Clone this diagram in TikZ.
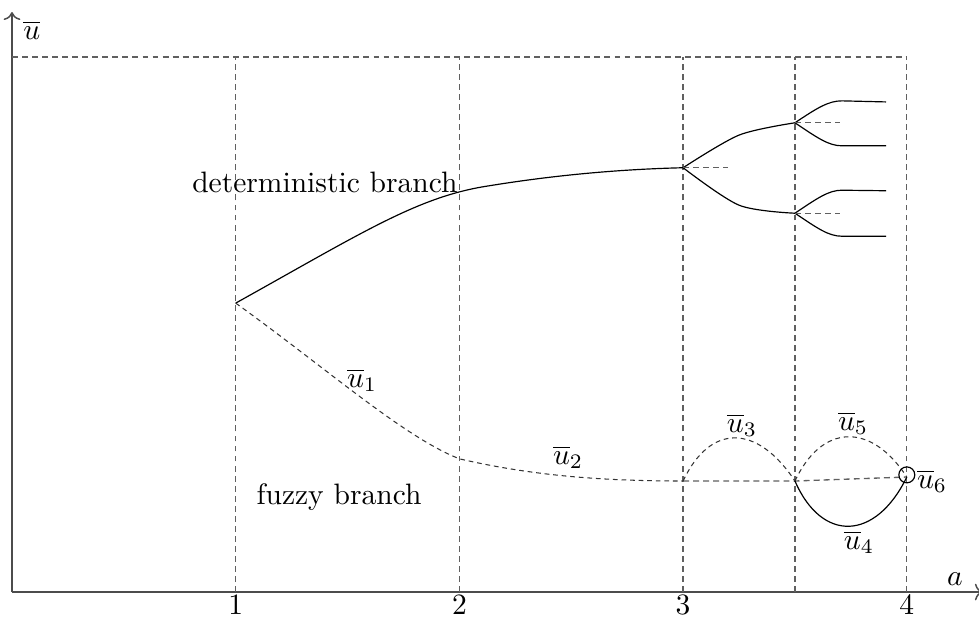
\documentclass[tikz,border=0pt]{standalone}
\usepackage{amsmath,amssymb}
\usepackage{tikz}
\usetikzlibrary{positioning,arrows.meta,calc}

\begin{document}
\begin{tikzpicture}[x=2.662cm,y=6.367cm,
  guide/.style={gray!75!black,dash pattern=on 2pt off 1.4pt,line width=0.45pt},
  fuzzy/.style={black!80,dash pattern=on 1.6pt off 1.3pt,line width=0.35pt},
  branch/.style={line width=0.4pt}]
\useasboundingbox (-0.0536,-0.0449) rectangle (4.3227,1.1065);
% ---- axes and guide lines ----
\draw[->,gray!60!black,line width=0.5pt] (0,0) -- (4.34,0);
\draw[->,gray!60!black,line width=0.5pt] (0,0) -- (0,1.084);
\node (ylab) at (0.089,1.050) {$\overline{u}$};
\node (xlab) at (4.215,0.025) {$a$};
\foreach \k in {1,2,3,4} \node[below,inner sep=1pt] (t\k) at (\k,0) {$\k$};
\foreach \k in {1,2,3,3.5,4} \draw[guide] (\k,0) -- (\k,1);
\draw[guide] (0,1) -- (4,1);
% ---- branch points ----
\coordinate (b1) at (1,0.540);
\coordinate (d3) at (3,0.793);
\coordinate (dU) at (3.5,0.877);
\coordinate (dL) at (3.5,0.708);
\coordinate (f2) at (2,0.249);
\coordinate (f3) at (3,0.2075);
\coordinate (f35) at (3.5,0.2075);
\coordinate (p6) at (4,0.215);
% ---- deterministic branch ----
\draw[branch] (b1) .. controls (1.55,0.668) and (1.8,0.735) .. (2.1,0.757)
  .. controls (2.4,0.778) and (2.7,0.79) .. (d3);
\draw[branch] plot[smooth] coordinates {(3,0.793) (3.25,0.854) (3.5,0.877)};
\draw[branch] plot[smooth] coordinates {(3,0.793) (3.25,0.723) (3.5,0.708)};
\draw[branch] (dU) .. controls (3.6,0.905) and (3.65,0.918) .. (3.71,0.918) -- (3.907,0.916);
\draw[branch] (dU) .. controls (3.6,0.849) and (3.65,0.834) .. (3.71,0.834) -- (3.907,0.834);
\draw[branch] (dL) .. controls (3.6,0.736) and (3.65,0.751) .. (3.71,0.751) -- (3.907,0.750);
\draw[branch] (dL) .. controls (3.6,0.680) and (3.65,0.665) .. (3.71,0.665) -- (3.907,0.665);
\draw[guide] (d3) -- (3.2,0.793);
\draw[guide] (dU) -- (3.7,0.877);
\draw[guide] (dL) -- (3.7,0.708);
\node (det) at (1.399,0.766) {deterministic branch};
% ---- fuzzy branch ----
\draw[fuzzy] (b1) .. controls (1.4,0.42) and (1.75,0.29) .. (f2)
  .. controls (2.3,0.22) and (2.6,0.2075) .. (f3);
\draw[guide] (f3) -- (f35) -- (p6);
\draw[fuzzy] (f3) .. controls (3.12,0.315) and (3.33,0.315) .. (f35);
\draw[fuzzy] (f35) .. controls (3.62,0.315) and (3.84,0.318) .. (p6);
\draw[branch] (f35) .. controls (3.62,0.092) and (3.86,0.095) .. (p6);
\draw[line width=0.4pt] ($(p6)+(0,0.004)$) circle[radius=2.7pt];
\node (u1) at (1.565,0.396) {$\overline{u}_1$};
\node (u2) at (2.486,0.252) {$\overline{u}_2$};
\node (u3) at (3.263,0.312) {$\overline{u}_3$};
\node (u4) at (3.786,0.0935) {$\overline{u}_4$};
\node (u5) at (3.76,0.316) {$\overline{u}_5$};
\node (u6) at (4.113,0.2075) {$\overline{u}_6$};
\node (fuz) at (1.462,0.178) {fuzzy branch};
\end{tikzpicture}
\end{document}
